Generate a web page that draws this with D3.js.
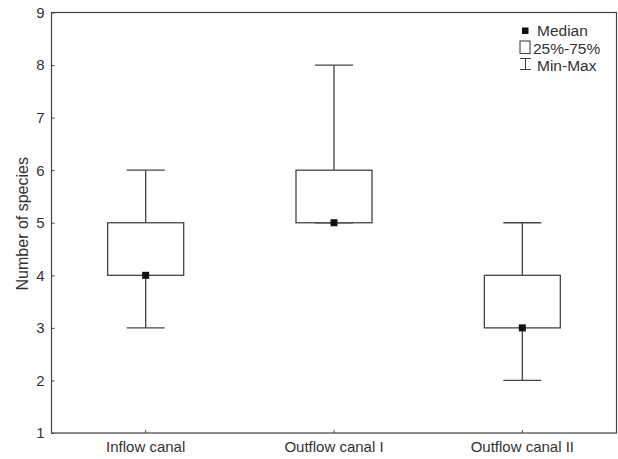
<!DOCTYPE html>
<html>
<head>
<meta charset="utf-8">
<script src="https://cdn.jsdelivr.net/npm/d3@7"></script>
<style>
  body { margin: 0; background: #fff; }
  text { font-family: Arial, "Liberation Sans", sans-serif; fill: #333; }
</style>
</head>
<body>
<div id="graph"></div>
<script>
var width = 618, height = 459

var categories = ['Inflow canal', 'Outflow canal I', 'Outflow canal II']
var mins    = [3, 5, 2]
var q1s     = [4, 5, 3]
var medians = [4, 5, 3]
var q3s     = [5, 6, 4]
var maxs    = [6, 8, 5]
var yTicks  = [1, 2, 3, 4, 5, 6, 7, 8, 9]

var margin = {left: 51.5, top: 12.5, right: 1.5, bottom: 26}
var stroke = '#444'
var fs = '15px'

var rows = categories.map(function(c, i){
  return {name: c, min: mins[i], q1: q1s[i], med: medians[i], q3: q3s[i], max: maxs[i]}
})

var x = d3.scaleBand().domain(categories)
    .range([margin.left, width - margin.right])
var y = d3.scaleLinear().domain([1, 9])
    .range([height - margin.bottom, margin.top])

var svg = d3.select('#graph').append('svg')
    .attr('width', width).attr('height', height)

// frame
svg.append('rect')
    .attr('x', x.range()[0]).attr('y', y(9))
    .attr('width', x.range()[1] - x.range()[0])
    .attr('height', y(1) - y(9))
    .attr('fill', 'none').attr('stroke', stroke).attr('stroke-width', 1.2)

// y axis, ticks pointing inward
var yAxis = svg.append('g')
    .attr('transform', 'translate(' + margin.left + ',0)')
    .call(d3.axisRight(y).tickValues(yTicks).tickSize(3).tickFormat(d3.format('d')))
yAxis.select('.domain').remove()
yAxis.selectAll('line').attr('stroke', stroke)
yAxis.selectAll('text')
    .attr('x', -7).attr('text-anchor', 'end')
    .style('font-size', fs).attr('fill', '#333')

// x axis, ticks pointing up
var xAxis = svg.append('g')
    .attr('transform', 'translate(0,' + y(1) + ')')
    .call(d3.axisTop(x).tickSize(3).tickSizeOuter(0))
xAxis.select('.domain').remove()
xAxis.selectAll('line').attr('stroke', stroke)
xAxis.selectAll('text')
    .attr('y', 18.5).attr('dy', 0)
    .style('font-size', fs).attr('fill', '#333')

svg.append('text')
    .attr('transform', 'translate(28,' + (y(5) + 1) + ') rotate(-90)')
    .attr('text-anchor', 'middle')
    .style('font-size', '16px')
    .text('Number of species')

var boxW = 76, capW = 38, medS = 7

var g = svg.selectAll('g.box').data(rows).enter().append('g')
    .attr('class', 'box')
    .attr('transform', function(d){ return 'translate(' + (x(d.name) + x.bandwidth() / 2) + ',0)' })

g.append('line')
    .attr('y1', function(d){ return y(d.max) }).attr('y2', function(d){ return y(d.q3) })
    .attr('stroke', stroke).attr('stroke-width', 1.3)
g.append('line')
    .attr('y1', function(d){ return y(d.min) }).attr('y2', function(d){ return y(d.q1) })
    .attr('stroke', stroke).attr('stroke-width', 1.3)
g.append('line')
    .attr('x1', -capW / 2).attr('x2', capW / 2)
    .attr('y1', function(d){ return y(d.max) }).attr('y2', function(d){ return y(d.max) })
    .attr('stroke', stroke).attr('stroke-width', 1.3)
g.append('line')
    .attr('x1', -capW / 2).attr('x2', capW / 2)
    .attr('y1', function(d){ return y(d.min) }).attr('y2', function(d){ return y(d.min) })
    .attr('stroke', stroke).attr('stroke-width', 1.3)
g.append('rect')
    .attr('x', -boxW / 2).attr('width', boxW)
    .attr('y', function(d){ return y(d.q3) })
    .attr('height', function(d){ return y(d.q1) - y(d.q3) })
    .attr('fill', '#fff').attr('stroke', stroke).attr('stroke-width', 1.3)
g.append('rect')
    .attr('x', -medS / 2).attr('width', medS).attr('height', medS)
    .attr('y', function(d){ return y(d.med) - medS / 2 })
    .attr('fill', '#111')

// legend
var lg = svg.append('g').attr('transform', 'translate(525,0)')
lg.append('rect').attr('x', -3).attr('y', 27.5).attr('width', 6.5).attr('height', 6.5).attr('fill', '#111')
lg.append('text').attr('x', 12).attr('y', 36).style('font-size', '15.5px').text('Median')
lg.append('rect').attr('x', -5).attr('y', 41).attr('width', 10).attr('height', 12.5)
    .attr('fill', '#fff').attr('stroke', stroke).attr('stroke-width', 1.1)
lg.append('text').attr('x', 8).attr('y', 53.5).style('font-size', '15.5px').text('25%-75%')
lg.append('path').attr('d', 'M-5,58.5H6M0.5,58.5V69.5M-5,69.5H6')
    .attr('fill', 'none').attr('stroke', stroke).attr('stroke-width', 1.1)
lg.append('text').attr('x', 12).attr('y', 70.5).style('font-size', '15.5px').text('Min-Max')
</script>
</body>
</html>
